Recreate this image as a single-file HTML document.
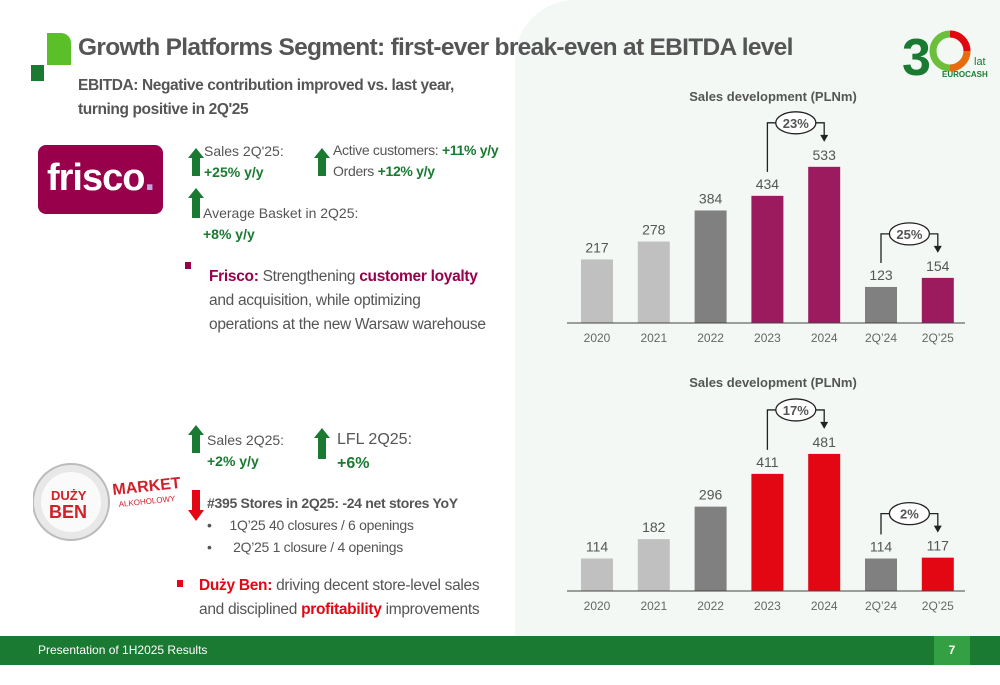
<!DOCTYPE html>
<html><head><meta charset="utf-8">
<style>
*{margin:0;padding:0;box-sizing:border-box}
body{width:1000px;height:685px;position:relative;overflow:hidden;background:#fff;font-family:"Liberation Sans",sans-serif;color:#555}
.abs{position:absolute}
.g{color:#1a7a32;font-weight:bold}
</style></head><body>
<div class="abs" style="left:515px;top:0;width:485px;height:636px;background:#f3f8f5;border-top-left-radius:60px"></div>
<div class="abs" style="left:47px;top:33px;width:24px;height:32px;background:#5bbf2a;border-top-right-radius:10px"></div>
<div class="abs" style="left:31px;top:65px;width:13px;height:16px;background:#1a7a32"></div>
<div class="abs" style="left:78px;top:34px;font-size:24.5px;font-weight:bold;color:#555;letter-spacing:-0.7px">Growth Platforms Segment: first-ever break-even at EBITDA level</div>
<div class="abs" style="left:78px;top:74px;font-size:15.5px;font-weight:bold;line-height:24px;color:#555;letter-spacing:-0.4px">EBITDA: Negative contribution improved vs. last year,<br>turning positive in 2Q'25</div>
<div class="abs" style="left:902px;top:25px;width:92px;height:55px">
<svg width="92" height="55"><text x="0" y="50" font-size="52" font-weight="bold" fill="#1a7a32" font-family="Liberation Sans">3</text>
<circle cx="48" cy="26" r="17" fill="none" stroke="#6cbf3a" stroke-width="7"/>
<path d="M48 9 A17 17 0 0 1 65 26" fill="none" stroke="#e30613" stroke-width="7"/>
<path d="M65 26 A17 17 0 0 1 48 43" fill="none" stroke="#e86b10" stroke-width="7"/>
<text x="72" y="40" font-size="11" fill="#1a7a32">lat</text>
<text x="40" y="52" font-size="8" font-weight="bold" fill="#1a7a32">EUROCASH</text></svg></div>

<div class="abs" style="left:38px;top:145px;width:125px;height:69px;background:#98004b;border-radius:8px;color:#fff;font-size:38px;font-weight:bold;text-align:center;line-height:66px;letter-spacing:-1px">frisco<span style="color:#c9a0e0">.</span></div>

<svg class="abs" style="left:0;top:0" width="520" height="636">
<path d="M188 158 l8 -10 l8 10 h-4 v18 h-8 v-18z" fill="#1a7a32"/>
<path d="M314 158 l8 -10 l8 10 h-4 v18 h-8 v-18z" fill="#1a7a32"/>
<path d="M188 198 l8 -10 l8 10 h-4 v20 h-8 v-20z" fill="#1a7a32"/>
<path d="M188 435 l8 -10 l8 10 h-4 v18 h-8 v-18z" fill="#1a7a32"/>
<path d="M314 438 l8 -10 l8 10 h-4 v21 h-8 v-21z" fill="#1a7a32"/>
<path d="M188 510 l8 11 l8 -11 h-4 v-20 h-8 v20z" fill="#e30613"/>
<rect x="185" y="262" width="6" height="7" fill="#98004b"/>
<rect x="177" y="580" width="6" height="7" fill="#e30613"/>
</svg>
<div class="abs" style="left:204px;top:141px;font-size:14px;line-height:21px">Sales 2Q'25:<br><span class="g">+25% y/y</span></div>
<div class="abs" style="left:333px;top:140px;font-size:14px;line-height:21px;letter-spacing:-0.3px">Active customers: <span class="g">+11% y/y</span><br>Orders <span class="g">+12% y/y</span></div>
<div class="abs" style="left:203px;top:203px;font-size:14px;line-height:21px">Average Basket in 2Q25:<br><span class="g">+8% y/y</span></div>
<div class="abs" style="left:209px;top:265px;font-size:15.5px;line-height:24px;letter-spacing:-0.3px"><b style="color:#98004b">Frisco:</b> Strengthening <b style="color:#98004b">customer loyalty</b><br>and acquisition, while optimizing<br>operations at the new Warsaw warehouse</div>

<div class="abs" style="left:33px;top:462px;width:150px;height:82px">
<svg width="150" height="82"><circle cx="38" cy="40" r="38" fill="#e8e8e8" stroke="#bbb" stroke-width="2"/><circle cx="38" cy="40" r="30" fill="#fafafa"/>
<text x="18" y="38" font-size="13" font-weight="bold" fill="#d0202a">DUŻY</text><text x="16" y="56" font-size="18" font-weight="bold" fill="#d0202a">BEN</text>
<text x="80" y="33" font-size="16" font-weight="bold" fill="#d0202a" transform="rotate(-6 80 33)">MARKET</text>
<text x="86" y="45" font-size="8" fill="#d0202a" transform="rotate(-6 86 45)">ALKOHOLOWY</text></svg></div>
<div class="abs" style="left:207px;top:430px;font-size:14px;line-height:21px">Sales 2Q25:<br><span class="g">+2% y/y</span></div>
<div class="abs" style="left:337px;top:428px;font-size:16px;line-height:24px">LFL 2Q25:<br><span class="g">+6%</span></div>
<div class="abs" style="left:207px;top:492px;font-size:14px;line-height:22px;letter-spacing:-0.3px"><b>#395 Stores in 2Q25: -24 net stores YoY</b><br>&bull;&nbsp;&nbsp;&nbsp;&nbsp;&nbsp;1Q’25 40 closures / 6 openings<br>&bull;&nbsp;&nbsp;&nbsp;&nbsp;&nbsp;&nbsp;2Q’25 1 closure / 4 openings</div>
<div class="abs" style="left:199px;top:574px;font-size:15.5px;line-height:24px;letter-spacing:-0.3px"><b style="color:#e30613">Duży Ben:</b> driving decent store-level sales<br>and disciplined <b style="color:#e30613">profitability</b> improvements</div>

<svg class="abs" id="charts" style="left:0;top:0" width="1000" height="636"></svg>

<div class="abs" style="left:0;top:636px;width:1000px;height:29px;background:#1a7a32"></div>
<div class="abs" style="left:38px;top:643px;font-size:12px;color:#fff">Presentation of 1H2025 Results</div>
<div class="abs" style="left:934px;top:636px;width:36px;height:29px;background:#35a043;color:#fff;font-size:12px;font-weight:bold;text-align:center;line-height:29px">7</div>

<script>
const categories=["2020","2021","2022","2023","2024","2Q’24","2Q’25"];
const friscoValues=[217,278,384,434,533,123,154];
const duzyBenValues=[114,182,296,411,481,114,117];
const friscoColors=["#c0c0c0","#c0c0c0","#808080","#9c1b5e","#9c1b5e","#808080","#9c1b5e"];
const duzyColors=["#c0c0c0","#c0c0c0","#808080","#e30613","#e30613","#808080","#e30613"];
const friscoGrowth=["23%","25%"];
const duzyGrowth=["17%","2%"];
const NS="http://www.w3.org/2000/svg";
const svg=document.getElementById('charts');
function el(t,a,txt){const e=document.createElementNS(NS,t);for(const k in a)e.setAttribute(k,a[k]);if(txt!==undefined)e.textContent=txt;svg.appendChild(e);return e;}
function drawChart(name,vals,colors,growth,base,scale,titleY){
  const x=i=>597+i*56.8;
  const y=v=>base-v*scale;
  let t=el('text',{x:773,y:titleY,'text-anchor':'middle','font-size':13,'font-weight':'bold',fill:'#555'},'Sales development (PLNm)');
  
  
  vals.forEach((v,i)=>{
    const r=el('rect',{x:x(i)-16,y:y(v),width:32,height:v*scale,fill:colors[i]});
    
    
    const l=el('text',{x:x(i),y:y(v)-7,'text-anchor':'middle','font-size':14,fill:'#555'},String(vals[i]));
    
    
    const c=el('text',{x:x(i),y:base+19,'text-anchor':'middle','font-size':12,fill:'#666'},categories[i]);
    
    
  });
  const ax=el('line',{x1:567,x2:965,y1:base,y2:base,stroke:'#444','stroke-width':1});
  
  
  [[3,4,0],[5,6,1]].forEach(([a,b,g])=>{
    const x1=x(a),x2=x(b);
    const lab=Math.min(y(vals[a]),y(vals[b]))-44;
    const p=el('path',{d:`M${x1} ${y(vals[a])-24} V${lab} H${x2} V${lab+14}`,fill:'none',stroke:'#222','stroke-width':1.3});
    
    
    el('path',{d:`M${x2-4} ${lab+12} L${x2+4} ${lab+12} L${x2} ${lab+19}z`,fill:'#222'});
    const cx=(x1+x2)/2;
    el('ellipse',{cx:cx,cy:lab,rx:20,ry:11,fill:'#fff',stroke:'#222','stroke-width':1.3});
    const gt=el('text',{x:cx,y:lab+5,'text-anchor':'middle','font-size':13,'font-weight':'bold',fill:'#555'},growth[g]);
    
    
  });
}
drawChart('frisco-chart',friscoValues,friscoColors,friscoGrowth,323,0.293,101);
drawChart('duzy-ben-chart',duzyBenValues,duzyColors,duzyGrowth,591,0.285,387);
</script>
</body></html>
